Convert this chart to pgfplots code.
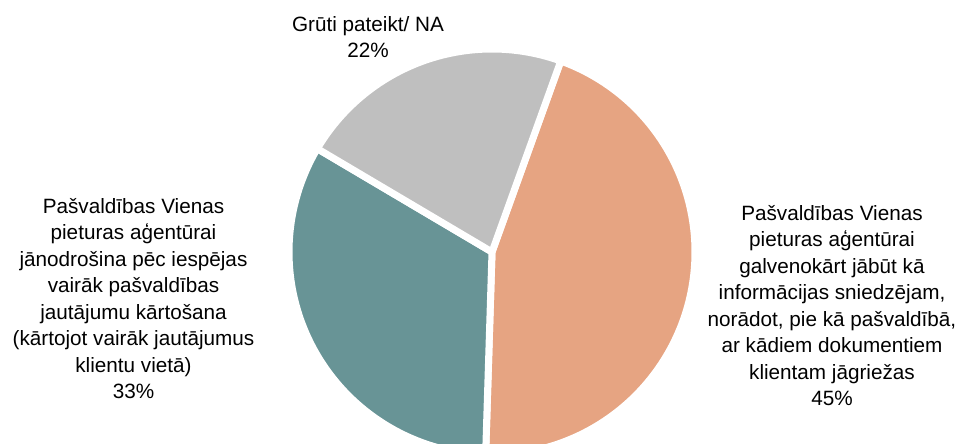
\documentclass[border=0pt]{standalone}
\usepackage{pgfplots}
\pgfplotsset{compat=1.18}
\usepackage{fontspec}
\setmainfont{Liberation Sans}
\definecolor{cOrange}{HTML}{E6A482}
\definecolor{cTeal}{HTML}{689496}
\definecolor{cGrey}{HTML}{BFBFBF}
% shares (percent), clockwise from the first slice
\def\valA{45}\def\valB{33}\def\valC{22}
\def\startang{70.2}
\pgfmathsetmacro\aA{\startang}
\pgfmathsetmacro\aB{\aA-\valA*3.6}
\pgfmathsetmacro\aC{\aB-\valB*3.6}
\pgfmathsetmacro\aD{\aC-\valC*3.6}
\def\cx{492}\def\cy{192}\def\rr{203}
\begin{document}
\begin{tikzpicture}
\begin{axis}[
  at={(0,0)}, anchor=south west,
  width=963bp, height=444bp, scale only axis,
  xmin=0, xmax=963, ymin=0, ymax=444,
  hide axis, clip=true,
]
\addplot[fill=cOrange, draw=white, line width=7bp, line join=round, domain=\aB:\aA, samples=120, variable=\t]
  ({\cx+\rr*cos(\t)},{\cy+\rr*sin(\t)}) -- (axis cs:\cx,\cy) -- cycle;
\addplot[fill=cTeal, draw=white, line width=7bp, line join=round, domain=\aC:\aB, samples=120, variable=\t]
  ({\cx+\rr*cos(\t)},{\cy+\rr*sin(\t)}) -- (axis cs:\cx,\cy) -- cycle;
\addplot[fill=cGrey, draw=white, line width=7bp, line join=round, domain=\aD:\aC, samples=120, variable=\t]
  ({\cx+\rr*cos(\t)},{\cy+\rr*sin(\t)}) -- (axis cs:\cx,\cy) -- cycle;
\end{axis}
\begin{scope}[every node/.style={align=center, inner sep=0pt, font=\fontsize{20.7bp}{26.5bp}\selectfont}]
\node[anchor=south] at (368bp,386bp) {Grūti pateikt/ NA\\22\%};
\node[anchor=south] at (133.5bp,45bp) {Pašvaldības Vienas\\pieturas aģentūrai\\jānodrošina pēc iespējas\\vairāk pašvaldības\\jautājumu kārtošana\\(kārtojot vairāk jautājumus\\klientu vietā)\\33\%};
\node[anchor=south] at (832bp,38bp) {Pašvaldības Vienas\\pieturas aģentūrai\\galvenokārt jābūt kā\\informācijas sniedzējam,\\norādot, pie kā pašvaldībā,\\ar kādiem dokumentiem\\klientam jāgriežas\\45\%};
\end{scope}
\pgfresetboundingbox
\path[use as bounding box] (0,0) rectangle (963bp,444bp);
\end{tikzpicture}
\end{document}
